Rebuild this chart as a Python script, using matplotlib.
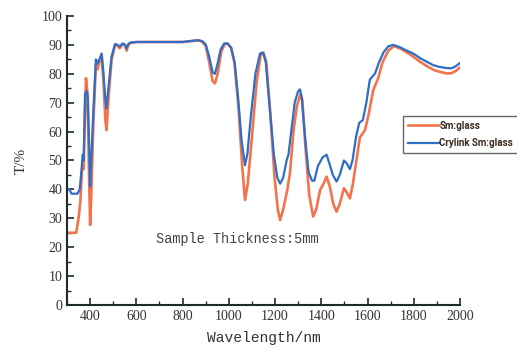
import matplotlib.pyplot as plt
from matplotlib.ticker import MultipleLocator

# Sm:glass
wl_sm = [300, 340, 350, 358, 363, 368, 372, 376, 382, 389, 394, 400, 405, 414, 425, 432,
         440, 450, 460, 466, 471, 480, 493, 508, 520, 528, 540, 550, 558, 565, 575, 600,
         700, 800, 850, 870, 885, 900, 915, 930, 940, 952, 967, 982, 995, 1010, 1025, 1042,
         1058, 1070, 1082, 1100, 1120, 1138, 1150, 1162, 1178, 1198, 1212, 1222, 1235, 1253,
         1265, 1280, 1295, 1310, 1318, 1332, 1348, 1365, 1378, 1395, 1410, 1423, 1437, 1452,
         1466, 1480, 1498, 1510, 1524, 1537, 1552, 1567, 1589, 1605, 1625, 1646, 1665, 1690,
         1715, 1745, 1775, 1800, 1830, 1860, 1890, 1920, 1945, 1963, 1982, 2000]
t_sm = [25, 25, 30, 36, 44, 50, 47, 60, 78.5, 73, 50, 27.7, 38, 63, 83, 81.5,
        84, 86.5, 74, 64, 60.5, 72, 85, 90, 89.6, 88.8, 90.2, 89.8, 88, 90, 90.7, 91,
        91, 91, 91.4, 91.5, 91.1, 89.6, 84, 77.5, 76.7, 80, 87.5, 90.3, 90.4, 89, 83.5, 68,
        48, 36.3, 42, 58, 77, 86.5, 87.2, 84, 68, 44, 33, 29.4, 33, 39.8,
        46, 60.5, 69, 73, 71, 54, 38, 30.6, 33, 39.8, 42, 44.4, 41, 35,
        32.3, 35, 40.4, 39, 36.9, 42, 50, 58, 60.5, 66, 74.4, 78.4, 84, 88,
        89.6, 88.6, 87.2, 85.8, 84, 82.5, 81.2, 80.5, 80.1, 80.2, 81, 82.2]

# Crylink Sm:glass
wl_cr = [300, 310, 320, 345, 355, 362, 368, 372, 378, 385, 390, 396, 400, 405, 414, 425,
         432, 440, 450, 458, 465, 471, 480, 493, 508, 520, 528, 540, 550, 558, 565, 575,
         600, 700, 800, 850, 870, 885, 900, 915, 930, 940, 950, 965, 980, 995, 1010, 1025,
         1040, 1055, 1070, 1080, 1095, 1115, 1135, 1148, 1160, 1175, 1195, 1210, 1222, 1235,
         1250, 1258, 1270, 1285, 1300, 1308, 1315, 1330, 1345, 1360, 1370, 1385, 1405, 1423,
         1435, 1450, 1466, 1480, 1498, 1510, 1524, 1535, 1550, 1564, 1580, 1595, 1610, 1632,
         1650, 1670, 1690, 1711, 1740, 1770, 1798, 1830, 1860, 1884, 1910, 1940, 1963, 1980,
         1997]
t_cr = [40, 40, 38.5, 38.5, 40, 46, 52, 50, 73, 74, 72, 55, 41, 50, 67, 85,
        83.5, 85, 87, 80, 72, 68, 76, 86, 90.3, 90, 89.4, 90.5, 90.2, 88.8, 90.3, 90.8,
        91, 91, 91, 91.5, 91.6, 91.3, 90.2, 86, 80.5, 80, 83, 88.5, 90.5, 90.5, 89, 84,
        72, 57, 48.4, 52, 65, 80, 87, 87.4, 84, 70, 52, 44, 42, 44,
        50, 52, 60, 70, 74, 74.6, 72, 58, 46, 43, 43, 48, 51, 52,
        49, 45, 42.7, 45, 50, 49, 47, 50, 58, 63, 64, 70, 78, 80,
        84, 87.5, 89.5, 90, 89.2, 88, 87, 85.3, 84, 83, 82.4, 82, 81.9, 82.5,
        83.6]

plt.rcParams['font.family'] = ['Liberation Serif', 'DejaVu Serif']

fig = plt.figure(figsize=(5.17, 3.46), dpi=100)
ax = fig.add_axes([0.1296, 0.1185, 0.7601, 0.8353])

ax.plot(wl_sm, t_sm, color='#f3734c', lw=1.9, label='Sm:glass')
ax.plot(wl_cr, t_cr, color='#2f6ec6', lw=1.6, label='Crylink Sm:glass')

ax.set_xlim(300, 2000)
ax.set_ylim(0, 100)
ax.xaxis.set_minor_locator(MultipleLocator(100))
ax.yaxis.set_major_locator(MultipleLocator(10))
ax.yaxis.set_minor_locator(MultipleLocator(5))
ax.set_xticks(range(400, 2001, 200))

for s in ['top', 'right']:
    ax.spines[s].set_visible(False)
for s in ['left', 'bottom']:
    ax.spines[s].set_linewidth(1.5)
    ax.spines[s].set_color('#1d2b2b')

ax.tick_params(which='both', direction='in', colors='#1d2b2b', labelcolor='#333333',
               labelsize=10)
ax.tick_params(which='major', length=5, width=1.2)
ax.tick_params(which='minor', length=3, width=1.0)

ax.set_xlabel('Wavelength/nm', family=['Liberation Mono'], fontsize=10.5,
              color='#333333', labelpad=6)
ax.set_ylabel('T/%', fontsize=11, color='#333333', labelpad=10)

ax.text(1035, 23, 'Sample Thickness:5mm', family=['Liberation Mono'], fontsize=9.8,
        color='#444444', ha='center', va='center')

leg = fig.legend(loc='upper left', bbox_to_anchor=(0.78, 0.665),
                 prop={'family': ['Roboto', 'DejaVu Sans'], 'weight': 'bold', 'size': 7.0},
                 handlelength=3.2, handletextpad=0.0, borderpad=0.5, labelspacing=0.75,
                 fancybox=False, framealpha=1, edgecolor='#666666', borderaxespad=0)
for t in leg.get_texts():
    t.set_color('#3a2a20')

fig.savefig('out.png', dpi=100)
